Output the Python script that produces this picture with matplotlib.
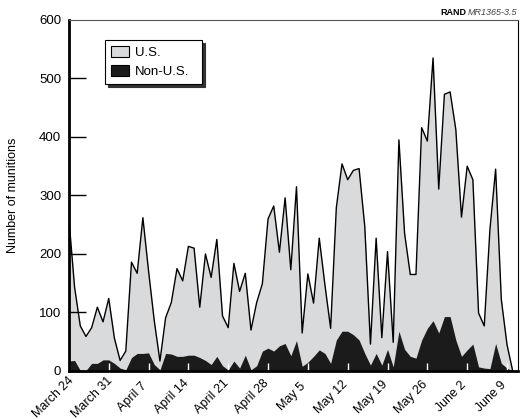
import numpy as np
import matplotlib
matplotlib.use("Agg")
import matplotlib.pyplot as plt
from matplotlib.patches import Patch
from matplotlib.transforms import ScaledTranslation

# Daily munitions counts, March 24 (day 0) through June 10 (day 78)
us_counts = [
    260, 143, 77, 59, 74, 109, 84, 124, 56, 18,
    34, 186, 167, 262, 171, 86, 17, 91, 117, 175,
    154, 213, 210, 109, 200, 160, 225, 94, 74, 184,
    136, 167, 70, 117, 149, 260, 282, 203, 296, 173,
    315, 65, 166, 116, 227, 147, 73, 279, 354, 327,
    343, 346, 247, 46, 227, 57, 204, 49, 395, 235,
    165, 165, 416, 393, 535, 311, 473, 477, 413, 263,
    350, 327, 99, 77, 242, 345, 122, 45, 0,
]
non_us_counts = [
    17, 18, 1, 1, 13, 13, 19, 19, 13, 5,
    2, 23, 30, 30, 31, 11, 2, 30, 29, 25,
    25, 27, 27, 23, 18, 11, 25, 9, 2, 17,
    5, 27, 2, 9, 34, 39, 34, 43, 47, 26,
    52, 8, 15, 25, 36, 30, 13, 53, 68, 68,
    62, 53, 30, 10, 30, 10, 37, 7, 68, 37,
    25, 22, 53, 73, 86, 65, 93, 93, 53, 25,
    36, 46, 7, 5, 4, 47, 13, 5, 0,
]
tick_days = [0, 7, 14, 21, 28, 35, 42, 49, 56, 63, 70, 77]
tick_labels = ["March 24", "March 31", "April 7", "April 14", "April 21",
               "April 28", "May 5", "May 12", "May 19", "May 26",
               "June 2", "June 9"]
y_ticks = [0, 100, 200, 300, 400, 500, 600]

GRAY = "#d9dadb"
DARK = "#1b1b1b"
FONT = "Liberation Sans"

plt.rcParams["font.family"] = FONT

days = np.arange(len(us_counts))

fig = plt.figure(figsize=(5.22, 4.19), dpi=100)
ax = fig.add_axes([0.132, 0.1146, 0.860, 0.8377])

ax.fill_between(days, us_counts, 0, color=GRAY, linewidth=0)
ax.plot(days, us_counts, color="black", linewidth=1.0)
ax.fill_between(days, non_us_counts, 0, color=DARK, linewidth=0)

ax.set_xlim(0, 78.9)
ax.set_ylim(0, 600)

# spines: heavy left/bottom, thin top/right
ax.spines["left"].set_linewidth(2.0)
ax.spines["bottom"].set_linewidth(2.0)
ax.spines["top"].set_linewidth(0.8)
ax.spines["top"].set_color("#555555")
ax.spines["right"].set_linewidth(0.8)

ax.set_yticks(y_ticks)
ax.set_yticklabels([str(v) for v in y_ticks], fontsize=9.5)
ax.tick_params(axis="y", direction="in", length=12, width=1, pad=5.5)
ax.yaxis.get_major_ticks()[-1].tick1line.set_visible(False)

# date labels: centred a little below-left of each tick, at 45 degrees
ax.set_xticks(tick_days)
ax.set_xticklabels(tick_labels, fontsize=9, rotation=45,
                   ha="center", va="center", rotation_mode="anchor")
ax.tick_params(axis="x", direction="in", length=6, width=1, color="white", pad=0)
shift = ScaledTranslation(-0.16, -0.26, fig.dpi_scale_trans)
for lab in ax.get_xticklabels():
    lab.set_transform(lab.get_transform() + shift)

ax.set_ylabel("Number of munitions", fontsize=9, labelpad=14.5)

handles = [Patch(facecolor=GRAY, edgecolor="black", linewidth=0.8),
           Patch(facecolor=DARK, edgecolor="black", linewidth=0.8)]
leg = ax.legend(handles, ["U.S.", "Non-U.S."], loc="upper left",
                bbox_to_anchor=(0.08, 0.70, 0.216, 0.243), mode="expand",
                fontsize=9.5, frameon=True,
                fancybox=False, shadow={"color": "#333333", "alpha": 1.0},
                handlelength=1.4, handleheight=0.95, handletextpad=0.4,
                borderpad=0.45, labelspacing=0.45, borderaxespad=0)
leg.get_frame().set_edgecolor("black")
leg.get_frame().set_linewidth(0.8)

fig.text(0.893, 0.971, "RAND", fontsize=6.5, fontweight="bold",
         ha="right", va="center")
fig.text(0.990, 0.971, "MR1365-3.5", fontsize=6.5, style="italic",
         color="#444444", ha="right", va="center")

fig.savefig("out.png", dpi=100, facecolor="white")
